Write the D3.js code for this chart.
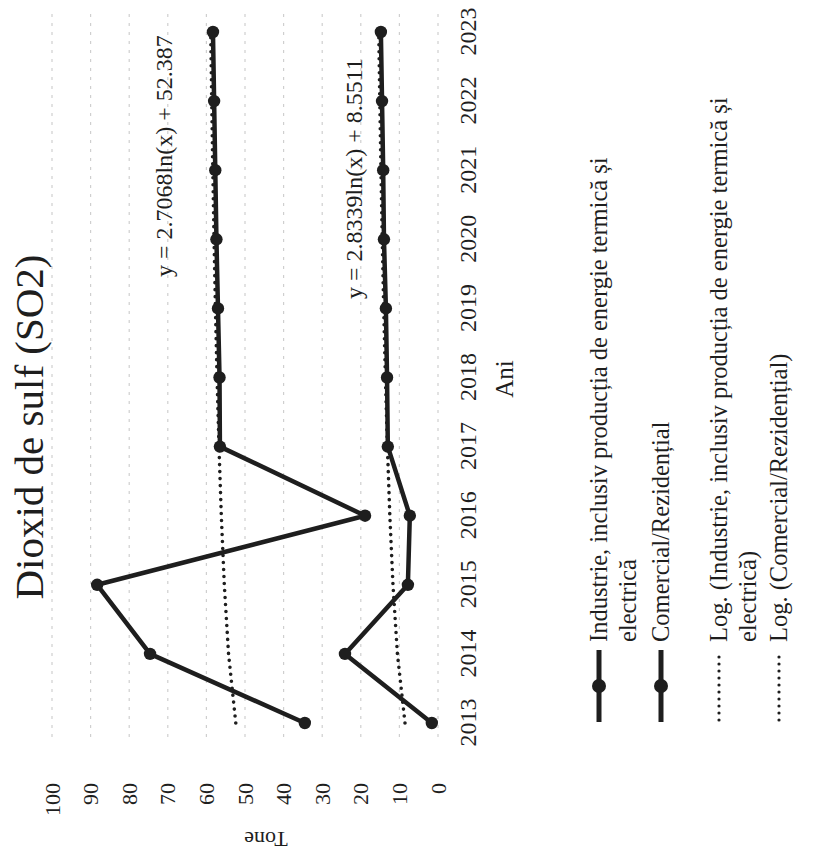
<!DOCTYPE html>
<html>
<head>
<meta charset="utf-8">
<script src="https://cdn.jsdelivr.net/npm/d3@7"></script>
<style>
  body { margin: 0; background: #fff; }
  svg { display: block; background: #fff; }
  text { font-family: "Liberation Serif", "Times New Roman", serif; fill: #1e1e1e; }
</style>
</head>
<body>
<svg id="chart" width="840" height="855"></svg>
<script>
// ---- data ----
const years = [2013, 2014, 2015, 2016, 2017, 2018, 2019, 2020, 2021, 2022, 2023];
const industrie = [34.5, 74.6, 88.3, 18.9, 56.5, 56.6, 57.0, 57.4, 57.7, 58.0, 58.3];
const comercial = [1.6, 24.1, 7.8, 7.3, 13.0, 13.2, 13.5, 14.0, 14.2, 14.5, 14.8];
const trendCoefA = [2.7068, 2.8339];
const trendCoefB = [52.387, 8.5511];
const valueTicks = [0, 10, 20, 30, 40, 50, 60, 70, 80, 90, 100];
const titleText = "Dioxid de sulf (SO2)";
const xTitle = "Ani";
const yTitle = "Tone";
const equationLabels = ["y = 2.7068ln(x) + 52.387", "y = 2.8339ln(x) + 8.5511"];
const legendLabels = [
  ["Industrie, inclusiv producția de energie termică și", "electrică"],
  ["Comercial/Rezidențial"],
  ["Log. (Industrie, inclusiv producția de energie termică și", "electrică)"],
  ["Log. (Comercial/Rezidențial)"]
];

// ---- layout (page is rotated 90° CCW: chart drawn in an upright frame then rotated) ----
const svg = d3.select("#chart");
const g = svg.append("g").attr("transform", "translate(0,855) rotate(-90)");

const x = d3.scalePoint().domain(years).range([132, 823]);
const y = d3.scaleLinear().domain([0, 100]).range([438, 52]);
const ink = "#1e1e1e";

// gridlines
g.append("g").selectAll("line").data(valueTicks).join("line")
  .attr("x1", 118).attr("x2", 842)
  .attr("y1", d => y(d)).attr("y2", d => y(d))
  .attr("stroke", "#cfcfcf").attr("stroke-width", 1.2)
  .attr("stroke-dasharray", "3,6");

// value axis
const yAxis = g.append("g").attr("transform", "translate(72,0)")
  .call(d3.axisLeft(y).tickValues(valueTicks).tickSize(0).tickPadding(0));
yAxis.select(".domain").remove();
yAxis.selectAll("text").attr("font-size", 22).attr("font-family", '"Liberation Serif", serif').attr("fill", ink);

// year axis
const xAxis = g.append("g").attr("transform", "translate(0,459)")
  .call(d3.axisBottom(x).tickSize(0).tickPadding(0));
xAxis.select(".domain").remove();
xAxis.selectAll("text").attr("font-size", 24).attr("font-family", '"Liberation Serif", serif').attr("fill", ink);

// titles
g.append("text").attr("x", 428).attr("y", 43).attr("text-anchor", "middle")
  .attr("font-size", 41).text(titleText);
g.append("text").attr("x", 476).attr("y", 513).attr("text-anchor", "middle")
  .attr("font-size", 25).text(xTitle);
g.append("text").attr("transform", "translate(23,266) rotate(-90)")
  .attr("text-anchor", "middle").attr("font-size", 22).text(yTitle);

// trend lines
const idx = years.map((d, i) => i + 1);
[0, 1].forEach(k => {
  const pts = idx.map((n, i) => [x(years[i]), y(trendCoefA[k] * Math.log(n) + trendCoefB[k])]);
  g.append("path").attr("d", d3.line()(pts))
    .attr("fill", "none").attr("stroke", ink).attr("stroke-width", 3.6)
    .attr("stroke-linecap", "round").attr("stroke-dasharray", "0,7");
});

// series lines + markers
[industrie, comercial].forEach(vals => {
  const line = d3.line().x((d, i) => x(years[i])).y(d => y(d));
  g.append("path").datum(vals).attr("d", line)
    .attr("fill", "none").attr("stroke", ink).attr("stroke-width", 4.5)
    .attr("stroke-linejoin", "round");
  g.append("g").selectAll("circle").data(vals).join("circle")
    .attr("cx", (d, i) => x(years[i])).attr("cy", d => y(d)).attr("r", 6.2)
    .attr("fill", ink);
});

// equation labels
g.append("text").attr("x", 578).attr("y", 172).attr("font-size", 24).text(equationLabels[0]);
g.append("text").attr("x", 556).attr("y", 362).attr("font-size", 24).text(equationLabels[1]);

// legend
const legendRows = [607, 669, 727, 787];
const legendFont = 24.5, lineGap = 29;
legendLabels.forEach((lines, k) => {
  const base = legendRows[k];
  const cy = base - 8;
  const lg = g.append("g");
  if (k < 2) {
    lg.append("line").attr("x1", 133).attr("x2", 205).attr("y1", cy).attr("y2", cy)
      .attr("stroke", ink).attr("stroke-width", 5);
    lg.append("circle").attr("cx", 169).attr("cy", cy).attr("r", 7).attr("fill", ink);
  } else {
    lg.append("line").attr("x1", 135).attr("x2", 205).attr("y1", cy).attr("y2", cy)
      .attr("stroke", ink).attr("stroke-width", 3.2)
      .attr("stroke-linecap", "round").attr("stroke-dasharray", "0,7");
  }
  lines.forEach((t, j) => {
    lg.append("text").attr("x", 213).attr("y", base + j * lineGap)
      .attr("font-size", legendFont).text(t);
  });
});
</script>
</body>
</html>
